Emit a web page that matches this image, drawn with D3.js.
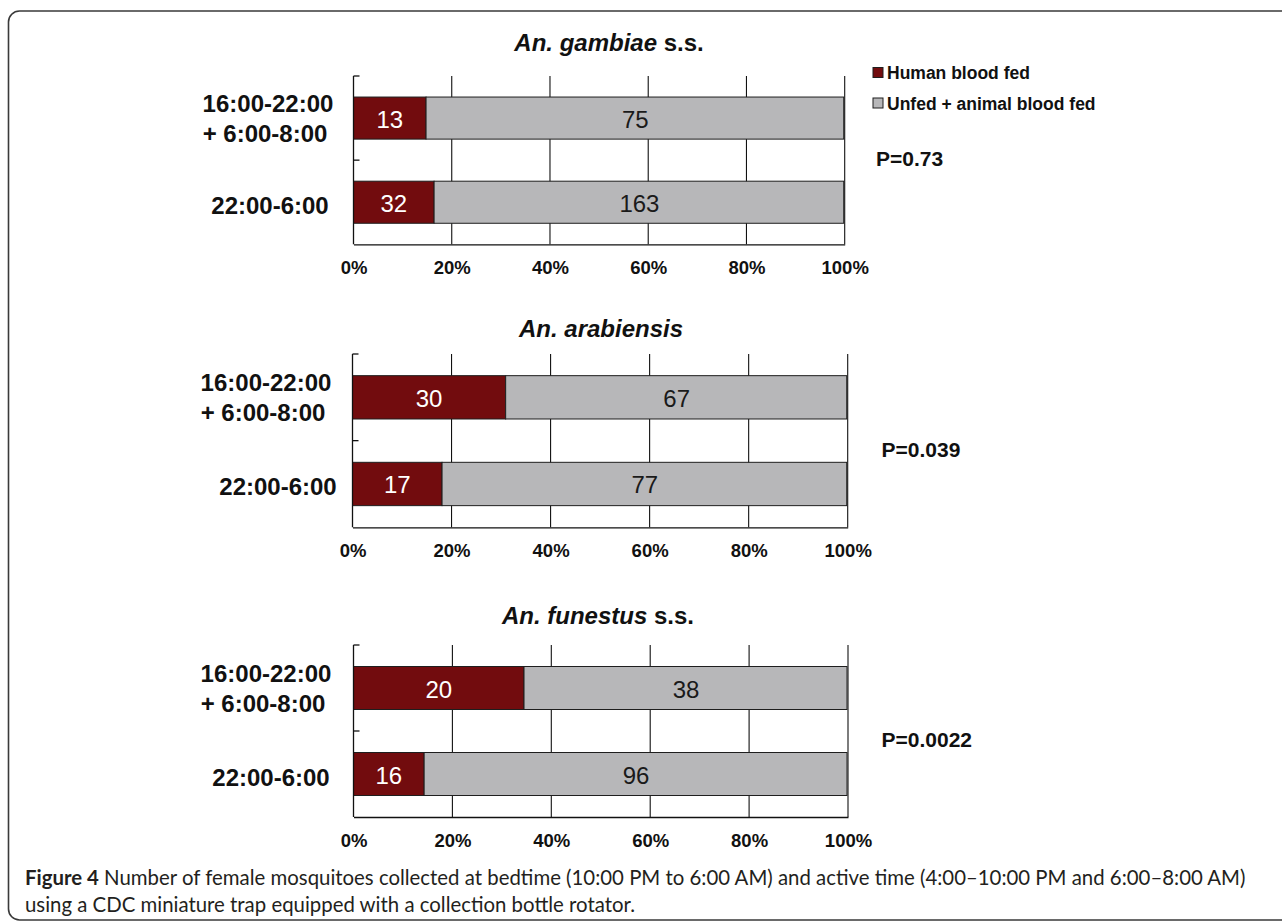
<!DOCTYPE html>
<html>
<head>
<meta charset="utf-8">
<script src="https://cdn.jsdelivr.net/npm/d3@7"></script>
<style>
  html, body { margin: 0; padding: 0; background: #fff; }
  svg { display: block; }
</style>
</head>
<body>
<svg id="chart" width="1282" height="921"></svg>
<script>
// ---------------- DATA ----------------
const categories = ["16:00-22:00|+ 6:00-8:00", "22:00-6:00"];
const speciesItalic = ["An. gambiae", "An. arabiensis", "An. funestus"];
const speciesSuffix = [" s.s.", "", " s.s."];
const humanBloodFed = [[13, 32], [30, 17], [20, 16]];
const unfedAnimalFed = [[75, 163], [67, 77], [38, 96]];
const pValues = ["P=0.73", "P=0.039", "P=0.0022"];
const xTickValues = [0, 20, 40, 60, 80, 100];
const seriesNames = ["Human blood fed", "Unfed + animal blood fed"];
const captionBold = "Figure 4";
const captionLine1 = " Number of female mosquitoes collected at bedtime (10:00 PM to 6:00 AM) and active time (4:00\u201310:00 PM and 6:00\u20138:00 AM)";
const captionLine2 = "using a CDC miniature trap equipped with a collection bottle rotator.";

// ---------------- LAYOUT ----------------
const panels = [
  { x0: 353.5, x1: 844.7, y0: 76,  y1: 244.3, titleX: 609, titleY: 42,  pX: 876,  pY: 158.5, catX: [268, 270] },
  { x0: 352.5, x1: 847.7, y0: 354, y1: 527.3, titleX: 601, titleY: 328, pX: 881.5, pY: 449.5, catX: [266, 278] },
  { x0: 353.5, x1: 848,   y0: 645, y1: 817,   titleX: 598, titleY: 615, pX: 881.5, pY: 739.5, catX: [266, 271] }
];
const RED = "#720c0e", GREY = "#b7b7b9", EDGE = "#1e1e1e";
const FONT = "'Liberation Sans', Arial, Helvetica, sans-serif";

const svg = d3.select("#chart");

// frame
svg.append("rect")
  .attr("x", 8.5).attr("y", 11).attr("width", 1300).attr("height", 909)
  .attr("rx", 11).attr("ry", 11)
  .attr("fill", "none").attr("stroke", "#3a3a3a").attr("stroke-width", 1.6);

panels.forEach((p, i) => {
  const g = svg.append("g");
  const rows = categories.map((c, j) => {
    const h = humanBloodFed[i][j], u = unfedAnimalFed[i][j];
    return { cat: c, h, u, total: h + u };
  });

  const x = d3.scaleLinear().domain([0, 100]).range([p.x0, p.x1]);
  const y = d3.scaleBand().domain(categories).range([p.y0, p.y1])
    .paddingInner(0.5).paddingOuter(0.25);

  // vertical gridlines
  g.append("g").selectAll("line").data(xTickValues.slice(1)).join("line")
    .attr("x1", d => x(d)).attr("x2", d => x(d))
    .attr("y1", p.y0).attr("y2", p.y1)
    .attr("stroke", "#111").attr("stroke-width", 1.1);

  // bars
  rows.forEach(r => {
    const hp = r.h / r.total * 100;
    g.append("rect")
      .attr("x", x(0)).attr("y", y(r.cat))
      .attr("width", x(hp) - x(0)).attr("height", y.bandwidth())
      .attr("fill", RED).attr("stroke", EDGE).attr("stroke-width", 1);
    g.append("rect")
      .attr("x", x(hp)).attr("y", y(r.cat))
      .attr("width", x(100) - x(hp) - 1).attr("height", y.bandwidth())
      .attr("fill", GREY).attr("stroke", EDGE).attr("stroke-width", 1);
    g.append("text")
      .attr("x", (x(0) + x(hp)) / 2).attr("y", y(r.cat) + y.bandwidth() / 2 + 1)
      .attr("text-anchor", "middle").attr("dominant-baseline", "central")
      .attr("font-family", FONT).attr("font-size", 24).attr("fill", "#fff")
      .text(r.h);
    g.append("text")
      .attr("x", (x(hp) + x(100)) / 2).attr("y", y(r.cat) + y.bandwidth() / 2 + 1)
      .attr("text-anchor", "middle").attr("dominant-baseline", "central")
      .attr("font-family", FONT).attr("font-size", 24).attr("fill", "#1a1a1a")
      .text(r.u);
  });

  // x axis (bottom line + labels)
  const xAxis = d3.axisBottom(x).tickValues(xTickValues).tickSize(0).tickPadding(0)
    .tickFormat(d => d + "%");
  const ax = g.append("g").attr("transform", `translate(0,${p.y1})`).call(xAxis);
  ax.select(".domain").attr("stroke", "#111").attr("stroke-width", 1.3);
  ax.selectAll("text")
    .attr("y", 23.5).attr("dy", null).attr("dominant-baseline", "central")
    .attr("font-family", FONT).attr("font-size", 18.5).attr("font-weight", "bold")
    .attr("fill", "#111");

  // y axis line with inside tick marks at category boundaries
  g.append("line").attr("x1", p.x0).attr("x2", p.x0).attr("y1", p.y0).attr("y2", p.y1)
    .attr("stroke", "#111").attr("stroke-width", 1.3);
  const bounds = [p.y0, (p.y0 + p.y1) / 2];
  g.append("g").selectAll("line").data(bounds).join("line")
    .attr("x1", p.x0).attr("x2", p.x0 + 6).attr("y1", d => d).attr("y2", d => d)
    .attr("stroke", "#111").attr("stroke-width", 1.3);

  // category labels
  categories.forEach((c, j) => {
    const lines = c.split("|");
    const cy = y(c) + y.bandwidth() / 2;
    const t = g.append("text")
      .attr("text-anchor", "middle")
      .attr("font-family", FONT).attr("font-size", 24).attr("font-weight", "bold")
      .attr("fill", "#111");
    if (lines.length === 2) {
      t.append("tspan").attr("x", p.catX[j]).attr("y", cy - 14.5)
        .attr("dominant-baseline", "central").text(lines[0]);
      t.append("tspan").attr("x", p.catX[j] - 3).attr("y", cy + 15)
        .attr("dominant-baseline", "central").text(lines[1]);
    } else {
      t.append("tspan").attr("x", p.catX[j]).attr("y", cy + 3)
        .attr("dominant-baseline", "central").text(lines[0]);
    }
  });

  // title
  const tt = svg.append("text")
    .attr("x", p.titleX).attr("y", p.titleY)
    .attr("text-anchor", "middle").attr("dominant-baseline", "central")
    .attr("font-family", FONT).attr("font-size", 24).attr("font-weight", "bold")
    .attr("fill", "#111");
  tt.append("tspan").attr("font-style", "italic").text(speciesItalic[i]);
  if (speciesSuffix[i]) tt.append("tspan").text(speciesSuffix[i]);

  // p value
  svg.append("text")
    .attr("x", p.pX).attr("y", p.pY).attr("dominant-baseline", "central")
    .attr("font-family", FONT).attr("font-size", 21).attr("font-weight", "bold")
    .attr("fill", "#111").text(pValues[i]);
});

// legend
const legend = svg.append("g");
const legendColors = [RED, GREY];
const legendY = [73, 103.5];
seriesNames.forEach((s, k) => {
  legend.append("rect")
    .attr("x", 873).attr("y", legendY[k] - 5.5).attr("width", 10).attr("height", 10)
    .attr("fill", legendColors[k]).attr("stroke", EDGE).attr("stroke-width", 1);
  legend.append("text")
    .attr("x", 887).attr("y", legendY[k]).attr("dominant-baseline", "central")
    .attr("font-family", FONT).attr("font-size", 17.5).attr("font-weight", "bold")
    .attr("fill", "#111").text(s);
});

// caption
const CAPFONT = "Lato, 'Open Sans', sans-serif";
const cap1 = svg.append("text").attr("x", 25).attr("y", 877)
  .attr("dominant-baseline", "central")
  .attr("font-family", CAPFONT).attr("font-size", 19).attr("fill", "#231f20");
cap1.append("tspan").attr("font-weight", "bold").text(captionBold);
cap1.append("tspan").text(captionLine1);
const cap2 = svg.append("text").attr("x", 25).attr("y", 903.5)
  .attr("dominant-baseline", "central")
  .attr("font-family", CAPFONT).attr("font-size", 19).attr("fill", "#231f20")
  .text(captionLine2);
// fit caption width to the reference line length
const w = cap1.node().getComputedTextLength();
const fs = 19 * 1221 / w;
cap1.attr("font-size", fs);
cap2.attr("font-size", fs);
</script>
</body>
</html>
